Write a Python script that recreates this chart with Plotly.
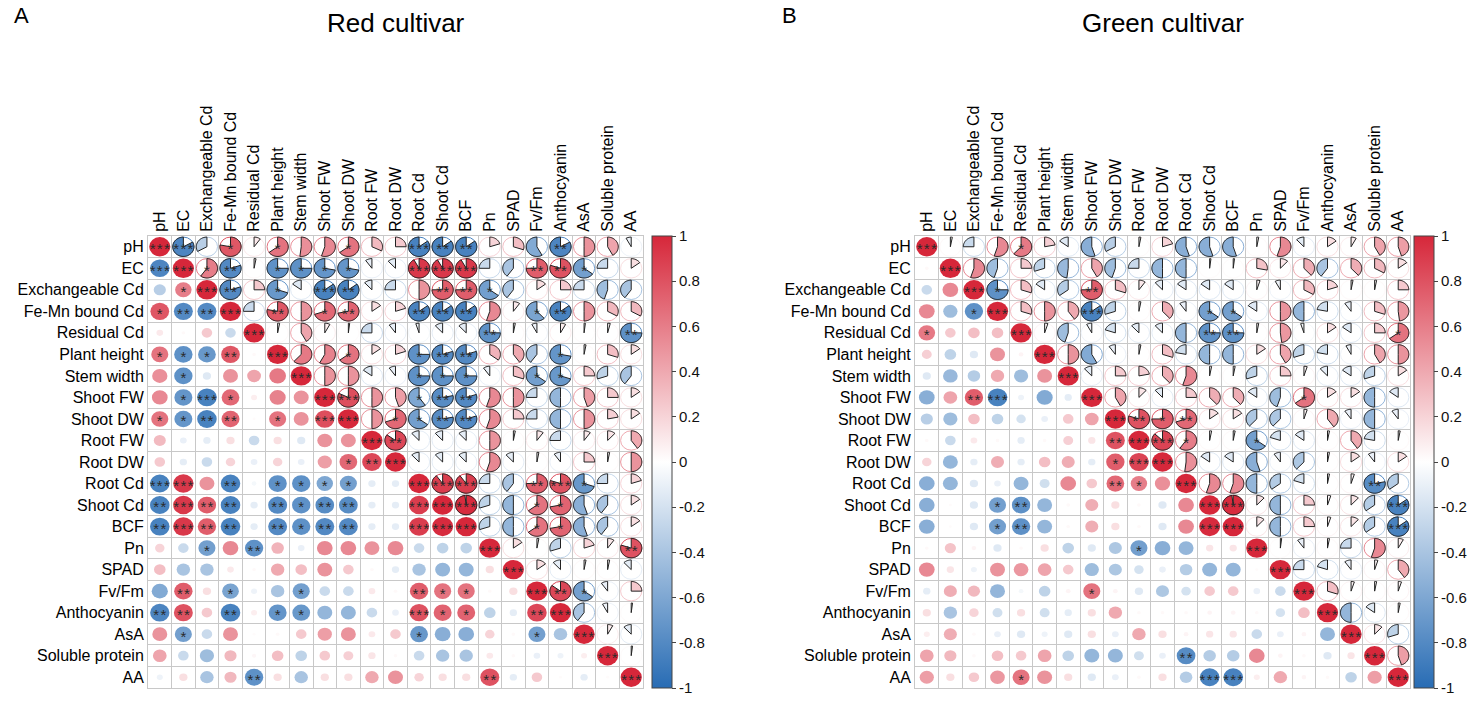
import numpy as np
import plotly.graph_objects as go

variables = ["pH", "EC", "Exchangeable Cd", "Fe-Mn bound Cd", "Residual Cd", "Plant height",
             "Stem width", "Shoot FW", "Shoot DW", "Root FW", "Root DW", "Root Cd", "Shoot Cd",
             "BCF", "Pn", "SPAD", "Fv/Fm", "Anthocyanin", "AsA", "Soluble protein", "AA"]

# upper triangle: row i holds r(i, j) for j = i+1 .. 20
red_upper = [
    [-0.83, -0.33, 0.78, 0.10, 0.65, 0.52, 0.55, 0.65, 0.32, 0.25, -0.85, -0.85, -0.85, 0.20, 0.30, -0.58, -0.83, 0.50, 0.42, -0.08],
    [0.60, -0.80, 0.03, -0.75, -0.75, -0.72, -0.72, -0.10, -0.12, 0.92, 0.92, 0.92, -0.25, -0.40, 0.75, 0.80, -0.65, -0.25, 0.15],
    [-0.80, 0.25, -0.70, -0.15, -0.85, -0.85, -0.12, -0.25, 0.50, 0.75, 0.75, -0.65, -0.40, 0.15, 0.25, -0.25, -0.45, -0.40],
    [-0.25, 0.78, 0.50, 0.70, 0.72, 0.15, 0.20, -0.85, -0.85, -0.85, 0.55, 0.10, -0.62, -0.85, 0.50, 0.33, 0.33],
    [0.03, 0.42, 0.08, 0.02, -0.25, -0.10, -0.05, -0.12, -0.12, -0.75, 0.03, -0.08, 0.08, 0.02, 0.04, -0.75],
    [0.62, 0.58, 0.65, 0.15, 0.20, -0.75, -0.80, -0.80, 0.35, 0.40, -0.40, -0.72, 0.03, 0.30, 0.15],
    [0.50, 0.50, -0.15, -0.10, -0.75, -0.75, -0.75, -0.10, 0.30, -0.65, -0.70, 0.25, -0.30, -0.40],
    [0.82, 0.50, 0.45, -0.60, -0.78, -0.80, 0.55, 0.50, -0.25, -0.50, 0.45, 0.25, 0.15],
    [0.50, 0.70, -0.65, -0.78, -0.80, 0.55, 0.25, -0.25, -0.50, 0.50, 0.22, 0.15],
    [0.85, -0.12, -0.12, -0.12, 0.50, 0.03, 0.10, -0.25, 0.10, 0.12, 0.40],
    [-0.12, -0.12, -0.12, 0.55, -0.12, 0.03, -0.10, 0.25, 0.03, 0.50],
    [0.90, 0.90, -0.25, -0.40, 0.75, 0.80, -0.70, -0.25, 0.20],
    [0.98, -0.30, -0.50, 0.65, 0.72, -0.55, -0.40, 0.15],
    [-0.30, -0.50, 0.65, 0.72, -0.55, -0.40, 0.15],
    [0.15, 0.03, -0.30, 0.20, 0.10, 0.80],
    [0.15, -0.12, 0.03, 0.03, -0.12],
    [0.85, -0.65, -0.10, 0.25],
    [-0.40, -0.08, 0.02],
    [0.08, -0.12],
    [0.02],
]

# (row, column, number of stars) below the diagonal
red_stars = [
    (1, 0, 3), (2, 1, 1), (3, 0, 1), (3, 1, 2), (3, 2, 2), (5, 0, 1), (5, 1, 1), (5, 2, 1),
    (5, 3, 2), (6, 1, 1), (7, 1, 1), (7, 2, 3), (7, 3, 1), (8, 0, 1), (8, 1, 1), (8, 2, 2),
    (8, 3, 2), (8, 5, 1), (8, 7, 3), (10, 8, 1), (10, 9, 2),
    (11, 0, 3), (11, 1, 3), (11, 3, 2), (11, 5, 1), (11, 6, 1), (11, 7, 1), (11, 8, 1),
    (12, 0, 2), (12, 1, 3), (12, 2, 2), (12, 3, 2), (12, 5, 2), (12, 6, 1), (12, 7, 2),
    (12, 8, 2), (12, 11, 3),
    (13, 0, 2), (13, 1, 3), (13, 2, 2), (13, 3, 2), (13, 5, 2), (13, 6, 1), (13, 7, 2),
    (13, 8, 2), (13, 11, 3), (13, 12, 3),
    (14, 2, 1), (14, 4, 2),
    (16, 1, 2), (16, 3, 1), (16, 6, 1), (16, 11, 2), (16, 12, 1), (16, 13, 1),
    (17, 0, 2), (17, 1, 2), (17, 3, 2), (17, 5, 1), (17, 6, 1), (17, 11, 3), (17, 12, 1),
    (17, 13, 1), (17, 16, 2),
    (18, 1, 1), (18, 11, 1), (18, 16, 1),
    (20, 4, 2), (20, 14, 2),
]

green_upper = [
    [0.03, -0.25, 0.55, 0.62, 0.22, -0.15, -0.55, -0.33, 0.03, 0.20, -0.55, -0.55, -0.55, 0.03, 0.55, -0.12, 0.15, 0.08, 0.42, 0.45],
    [0.55, -0.45, 0.25, -0.30, -0.48, 0.42, -0.45, -0.25, -0.50, -0.50, 0.02, 0.02, 0.28, 0.12, 0.38, -0.40, 0.38, 0.33, 0.15],
    [-0.75, 0.30, -0.15, -0.35, 0.75, 0.30, 0.10, -0.12, -0.15, -0.15, -0.15, 0.05, -0.08, 0.33, 0.20, 0.03, 0.03, 0.25],
    [0.30, 0.50, 0.40, -0.85, -0.30, 0.03, 0.38, -0.10, -0.65, -0.65, -0.15, 0.50, -0.50, -0.22, -0.10, 0.30, 0.48],
    [0.05, -0.45, -0.08, -0.20, -0.12, -0.12, -0.50, -0.75, -0.75, 0.03, 0.48, -0.05, 0.15, -0.15, 0.25, 0.65],
    [0.50, -0.58, -0.10, 0.03, 0.30, -0.22, -0.50, -0.50, 0.15, 0.42, -0.30, -0.22, -0.08, 0.42, 0.50],
    [-0.12, 0.25, 0.22, 0.38, 0.55, 0.03, 0.03, -0.30, 0.25, 0.05, -0.12, -0.15, -0.30, 0.15],
    [0.42, 0.12, -0.12, 0.25, 0.38, 0.38, -0.15, -0.45, 0.65, 0.15, 0.15, -0.50, -0.15],
    [0.80, 0.75, 0.70, 0.15, 0.15, -0.38, -0.38, 0.05, 0.40, -0.10, -0.50, -0.10],
    [0.87, 0.60, 0.03, 0.03, -0.65, -0.20, -0.15, 0.03, 0.40, -0.22, 0.03],
    [0.52, -0.15, -0.15, -0.55, -0.10, -0.38, 0.03, 0.15, -0.10, 0.15],
    [0.55, 0.55, -0.50, -0.35, -0.20, 0.03, 0.05, -0.78, -0.35],
    [0.98, 0.12, -0.50, 0.25, 0.05, 0.12, -0.35, -0.85],
    [0.12, -0.50, 0.25, 0.05, 0.12, -0.35, -0.85],
    [0.02, -0.10, 0.03, -0.25, 0.55, 0.08],
    [-0.25, -0.20, -0.10, 0.05, 0.40],
    [0.30, 0.05, 0.03, 0.05],
    [-0.50, -0.15, 0.03],
    [0.12, -0.30],
    [0.45],
]

green_stars = [
    (3, 2, 1), (4, 0, 1), (7, 2, 2), (7, 3, 3), (9, 8, 2), (10, 8, 1), (10, 9, 3),
    (11, 8, 2), (11, 9, 1), (12, 3, 1), (12, 4, 2), (13, 3, 1), (13, 4, 2), (13, 12, 3),
    (14, 9, 1), (16, 7, 1), (19, 11, 2), (20, 4, 1), (20, 12, 3), (20, 13, 3),
]

panel_titles = ["Red cultivar", "Green cultivar"]
panel_letters = ["A", "B"]
cbar_ticks = [1, 0.8, 0.6, 0.4, 0.2, 0, -0.2, -0.4, -0.6, -0.8, -1]

W, H = 1477, 704
RED = (214, 39, 58)
BLUE = (40, 108, 180)
FONT = "Liberation Sans, Arial, sans-serif"


def corr_color(r):
    base = RED if r > 0 else BLUE
    a = min(abs(r), 1.0)
    return "rgb(%d,%d,%d)" % tuple(round(255 + (c - 255) * a) for c in base)


def to_matrix(upper):
    n = len(variables)
    m = np.eye(n)
    for i, row in enumerate(upper):
        for k, v in enumerate(row):
            m[i, i + 1 + k] = v
            m[i + 1 + k, i] = v
    return m


def wedge_path(cx, cy, r, rad=0.45):
    # starts at 12 o'clock, clockwise for positive r (y axis is reversed)
    steps = max(2, int(abs(r) * 72))
    t = np.linspace(0, 2 * np.pi * r, steps + 1)
    pts = " ".join("L%.4f,%.4f" % (cx + rad * np.sin(a), cy - rad * np.cos(a)) for a in t)
    return "M%.4f,%.4f %s Z" % (cx, cy, pts)


def star_label(k):
    return "\u200a".join(["*"] * k)


colorscale = [[0, corr_color(-1)], [0.5, "rgb(255,255,255)"], [1, corr_color(1)]]
n = len(variables)
grid_top, grid_bot = 236, 688
panels = [
    dict(upper=red_upper, stars=red_stars, left=148, right=643, cbar=652),
    dict(upper=green_upper, stars=green_stars, left=915, right=1410, cbar=1414),
]

fig = go.Figure()
shapes = []
annotations = []

for p, panel in enumerate(panels):
    m = to_matrix(panel["upper"])
    sfx = "" if p == 0 else "2"
    xref, yref = "x" + sfx, "y" + sfx

    for i in range(n):
        for j in range(n):
            r = m[i, j]
            col = corr_color(r)
            if i >= j:
                rad = 0.45 * np.sqrt(abs(r))
                shapes.append(dict(type="circle", xref=xref, yref=yref, x0=j - rad, x1=j + rad,
                                   y0=i - rad, y1=i + rad, fillcolor=col, line=dict(width=0),
                                   layer="between"))
            else:
                shapes.append(dict(type="circle", xref=xref, yref=yref, x0=j - 0.45, x1=j + 0.45,
                                   y0=i - 0.45, y1=i + 0.45, line=dict(color=col, width=1),
                                   layer="between"))
                shapes.append(dict(type="path", xref=xref, yref=yref, path=wedge_path(j, i, r),
                                   fillcolor=col, line=dict(color="#222222", width=1),
                                   layer="between"))

    # hover layer + colour bar
    xs, ys, vals, hov = [], [], [], []
    for i in range(n):
        for j in range(n):
            xs.append(j)
            ys.append(i)
            vals.append(m[i, j])
            hov.append("%s vs %s: r = %.2f" % (variables[i], variables[j], m[i, j]))
    fig.add_trace(go.Scatter(
        x=xs, y=ys, mode="markers", xaxis=xref, yaxis=yref, showlegend=False,
        text=hov, hoverinfo="text",
        marker=dict(size=18, opacity=0, color=vals, colorscale=colorscale, cmin=-1, cmax=1,
                    showscale=True,
                    colorbar=dict(x=panel["cbar"] / W, xanchor="left", y=1 - grid_top / H,
                                  yanchor="top", len=(grid_bot - grid_top) / H, lenmode="fraction",
                                  thickness=20, thicknessmode="pixels", outlinewidth=1,
                                  outlinecolor="#444444", xpad=0, ypad=0,
                                  tickvals=cbar_ticks, ticktext=[str(t) for t in cbar_ticks],
                                  ticks="outside", ticklen=4, tickcolor="#444444",
                                  tickfont=dict(family=FONT, size=15, color="#111111"))),
    ))

    # significance stars, mirrored into the pie half, plus the diagonal
    sx, sy, st = [], [], []
    for (i, j, k) in panel["stars"]:
        sx += [j, i]
        sy += [i, j]
        st += [star_label(k), star_label(k)]
    for i in range(n):
        sx.append(i)
        sy.append(i)
        st.append(star_label(3))
    fig.add_trace(go.Scatter(
        x=sx, y=[v + 0.17 for v in sy], text=st, mode="text", xaxis=xref, yaxis=yref,
        showlegend=False, hoverinfo="skip",
        textfont=dict(family=FONT, size=15, color="#2a2a2a"),
    ))

    xd = [panel["left"] / W, panel["right"] / W]
    yd = [1 - grid_bot / H, 1 - grid_top / H]
    axis_common = dict(showgrid=False, zeroline=False, showline=True, mirror=True,
                       linecolor="#c8c8c8", linewidth=1, ticks="",
                       tickfont=dict(family=FONT, size=16, color="black"),
                       tickvals=list(range(n)), ticktext=variables,
                       minor=dict(tickvals=[k + 0.5 for k in range(-1, n)], showgrid=True,
                                  gridcolor="#c8c8c8", gridwidth=1, ticks=""))
    fig.layout["xaxis" + sfx] = dict(axis_common, domain=xd, range=[-0.5, n - 0.5], side="top",
                                     tickangle=-90, anchor=yref, fixedrange=True)
    fig.layout["yaxis" + sfx] = dict(axis_common, domain=yd, range=[n - 0.5, -0.5],
                                     anchor=xref, fixedrange=True)

    cx = (panel["left"] + panel["right"]) / 2 / W
    annotations.append(dict(text=panel_titles[p], x=cx, y=1 - 23 / H, xref="paper", yref="paper",
                            xanchor="center", yanchor="middle", showarrow=False,
                            font=dict(family=FONT, size=26, color="black")))
    annotations.append(dict(text=panel_letters[p], x=(12 if p == 0 else 780) / W, y=1 - 16 / H,
                            xref="paper", yref="paper", xanchor="left", yanchor="middle",
                            showarrow=False, font=dict(family=FONT, size=22, color="black")))

fig.update_layout(
    width=W, height=H, margin=dict(l=0, r=0, t=0, b=0),
    paper_bgcolor="white", plot_bgcolor="white",
    shapes=shapes, annotations=annotations,
    showlegend=False, hovermode="closest",
)

fig.write_html("out.html", config={"displayModeBar": False},
               post_script="document.body.style.margin='0';")
